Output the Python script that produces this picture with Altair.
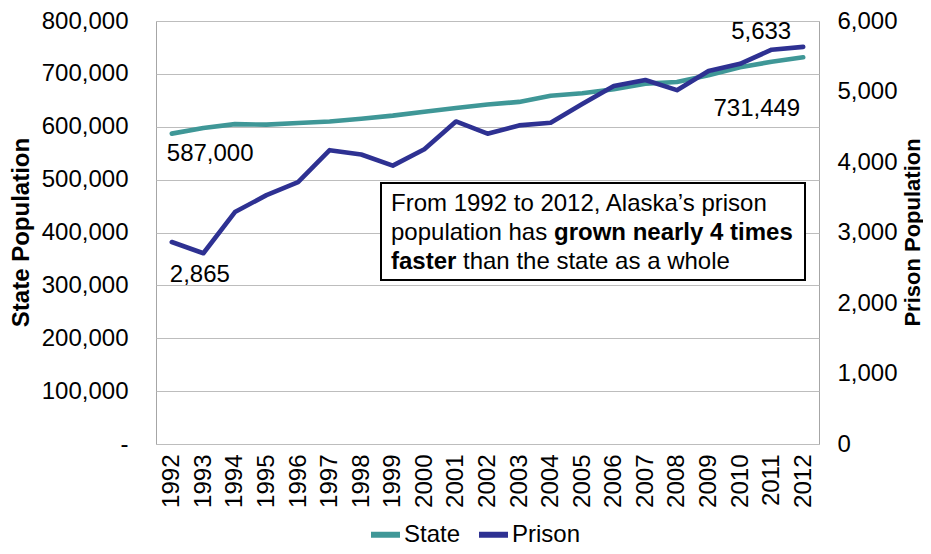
import altair as alt
import pandas as pd

years = [str(y) for y in range(1992, 2013)]
state_pop = [587000, 597600, 605000, 604000, 607000, 610000, 615000, 621000,
             628500, 635500, 642000, 647000, 658500, 663500, 671000, 681500,
             684500, 697500, 712500, 723000, 731449]
prison_pop = [2865, 2706, 3290, 3530, 3715, 4168, 4107, 3949, 4182, 4575,
              4402, 4519, 4556, 4822, 5079, 5163, 5019, 5290, 5393, 5593, 5633]
series = ["State", "Prison"]
colors = ["#3F9797", "#2E3192"]
left_ticks = list(range(0, 800001, 100000))
right_ticks = list(range(0, 6001, 1000))

FONT = "Liberation Sans"

df = pd.DataFrame({"Year": years, "State": state_pop, "Prison": prison_pop})

color_scale = alt.Scale(domain=series, range=colors)
legend = alt.Legend(title=None, orient="none", legendX=212, legendY=496,
                    direction="horizontal", symbolType="stroke",
                    symbolStrokeWidth=6, symbolSize=841, labelFontSize=24,
                    labelOffset=1, columnPadding=6, labelColor="black")

x_enc = alt.X("Year:O", scale=alt.Scale(type="point", padding=0.5),
              axis=alt.Axis(title=None, labelAngle=270, labelFontSize=24,
                            labelPadding=10, ticks=False, domain=False,
                            grid=False))

y_state = alt.Y("State:Q", scale=alt.Scale(domain=[0, 800000]),
                axis=alt.Axis(title="State Population", values=left_ticks,
                              format=",.0f",
                              labelExpr="datum.value == 0 ? '-\u00a0\u00a0' : datum.label",
                              labelFontSize=24, labelPadding=28, ticks=False,
                              domain=False, grid=True, gridColor="#BDBDBD",
                              titleFontSize=24, titleFontWeight="bold",
                              titleX=-135, titleY=211, titleAngle=270,
                              titleBaseline="middle", titleAlign="center"))

y_prison = alt.Y("Prison:Q", scale=alt.Scale(domain=[0, 6000]),
                 axis=alt.Axis(title="Prison Population", orient="right",
                               values=right_ticks, format=",.0f",
                               labelFontSize=24, labelPadding=18, ticks=False,
                               domain=False, grid=False, titleFontSize=22,
                               titleFontWeight="bold", titleAngle=270,
                               titleX=93, titleY=211, titleBaseline="middle",
                               titleAlign="center"))

line_style = dict(strokeWidth=4.6, strokeCap="round", strokeJoin="round")

state_line = alt.Chart(df).transform_calculate(series="'State'").mark_line(
    **line_style).encode(
    x=x_enc, y=y_state,
    color=alt.Color("series:N", scale=color_scale, legend=legend))

prison_line = alt.Chart(df).transform_calculate(series="'Prison'").mark_line(
    **line_style).encode(
    x=x_enc, y=y_prison,
    color=alt.Color("series:N", scale=color_scale, legend=legend))

txt = dict(fontSize=24, color="black", baseline="middle", font=FONT)

s_start = alt.Chart(pd.DataFrame({"Year": [years[0]], "State": [state_pop[0]],
                                  "label": [f"{state_pop[0]:,}"]})).mark_text(
    align="left", dx=-5, dy=20, **txt).encode(x="Year:O", y="State:Q", text="label:N")
s_end = alt.Chart(pd.DataFrame({"Year": [years[-1]], "State": [state_pop[-1]],
                                "label": [f"{state_pop[-1]:,}"]})).mark_text(
    align="right", dx=-3, dy=52, **txt).encode(x="Year:O", y="State:Q", text="label:N")
p_start = alt.Chart(pd.DataFrame({"Year": [years[0]], "Prison": [prison_pop[0]],
                                  "label": [f"{prison_pop[0]:,}"]})).mark_text(
    align="left", dx=-2, dy=33, **txt).encode(x="Year:O", y="Prison:Q", text="label:N")
p_end = alt.Chart(pd.DataFrame({"Year": [years[-1]], "Prison": [prison_pop[-1]],
                                "label": [f"{prison_pop[-1]:,}"]})).mark_text(
    align="right", dx=-12, dy=-15, **txt).encode(x="Year:O", y="Prison:Q", text="label:N")

state_layer = alt.layer(state_line, s_start, s_end)
prison_layer = alt.layer(prison_line, p_start, p_end)

one = pd.DataFrame({"k": [0]})
box = alt.Chart(one).mark_rect(fill="white", stroke="black", strokeWidth=2).encode(
    x=alt.value(225), x2=alt.value(649), y=alt.value(162), y2=alt.value(259))

box_lines = [
    ("From 1992 to 2012, Alaska\u2019s prison", 235, 183, "normal"),
    ("population has", 235, 212, "normal"),
    ("grown nearly 4 times", 398, 212, "bold"),
    ("faster", 235, 241, "bold"),
    ("than the state as a whole", 307, 241, "normal"),
]
box_texts = [
    alt.Chart(one).mark_text(align="left", fontWeight=w, text=t, **txt).encode(
        x=alt.value(xx), y=alt.value(yy))
    for (t, xx, yy, w) in box_lines
]

chart = alt.layer(state_layer, prison_layer, box, *box_texts).resolve_scale(
    y="independent"
).properties(
    width=663, height=423,
    autosize=alt.AutoSizeParams(type="none"),
    padding={"left": 148, "top": 13, "right": 104, "bottom": 102},
).configure(font=FONT).configure_view(
    stroke="#A6A6A6", strokeWidth=1
).configure_axis(labelColor="black", titleColor="black", labelFont=FONT,
                 titleFont=FONT)

chart.save("out.html", embed_options={"renderer": "svg", "actions": False})
